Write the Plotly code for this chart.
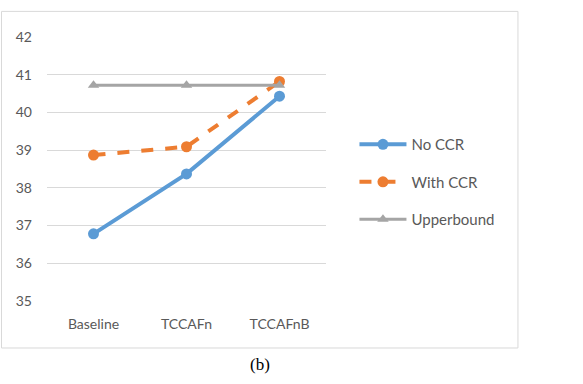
import plotly.graph_objects as go

categories = ["Baseline", "TCCAFn", "TCCAFnB"]
no_ccr = [36.78, 38.37, 40.43]
with_ccr = [38.87, 39.09, 40.82]
upperbound = [40.72, 40.72, 40.72]
y_ticks = [35, 36, 37, 38, 39, 40, 41, 42]

fig = go.Figure()
fig.add_trace(go.Scatter(x=categories, y=no_ccr, name="No CCR", mode="lines+markers",
                         line=dict(color="#5B9BD5", width=4), marker=dict(size=11, color="#5B9BD5"),
                         legendgroup="a"))
fig.add_trace(go.Scatter(x=categories, y=with_ccr, name="With CCR", mode="lines+markers",
                         line=dict(color="#ED7D31", width=4, dash="dash"), marker=dict(size=11, color="#ED7D31"),
                         legendgroup="b"))
fig.add_trace(go.Scatter(x=categories, y=upperbound, name="Upperbound", mode="lines+markers",
                         line=dict(color="#A5A5A5", width=3), marker=dict(size=10, symbol="triangle-up", color="#A5A5A5"),
                         legendgroup="c"))

fig.update_layout(
    width=583, height=384,
    margin=dict(l=47, r=257, t=37, b=83),
    paper_bgcolor="white", plot_bgcolor="white",
    font=dict(family="Lato", size=14, color="#595959"),
    xaxis=dict(range=[-0.5, 2.5], showgrid=False, showline=False, ticks="", zeroline=False,
               ticklabelstandoff=13),
    yaxis=dict(range=[35, 42], tickvals=y_ticks, showgrid=True, gridcolor="#D9D9D9", gridwidth=1,
               zeroline=False, showline=False, ticks="", ticklabelstandoff=14),
    legend=dict(x=1.102, y=0.655, xanchor="left", yanchor="top", tracegroupgap=15, itemwidth=47,
                font=dict(family="Lato", size=15, color="#595959"), bgcolor="rgba(0,0,0,0)"),
    showlegend=True,
)

fig.add_shape(type="rect", xref="paper", yref="paper", x0=-0.163, x1=1.688, y0=-0.178, y1=1.097,
              line=dict(color="#D9D9D9", width=1), layer="below")
fig.add_annotation(text="(b)", xref="paper", yref="paper", x=0.763, y=-0.242, yanchor="middle",
                   xanchor="center", showarrow=False,
                   font=dict(family="Liberation Serif", size=17, color="black"))

fig.write_html("out.html")
